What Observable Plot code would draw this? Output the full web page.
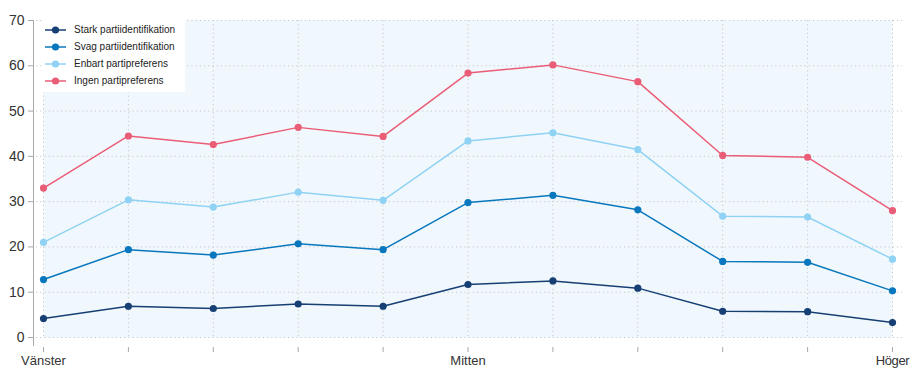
<!DOCTYPE html>
<html><head><meta charset="utf-8">
<script src="https://cdn.jsdelivr.net/npm/d3@7"></script>
<script src="https://cdn.jsdelivr.net/npm/@observablehq/plot@0.6"></script>
<style>
body{margin:0;background:#fff;}
#wrap{position:relative;width:910px;height:369px;}
#legend{position:absolute;left:43px;top:20px;width:142px;height:72px;background:#fff;font-family:"Liberation Sans",Arial,sans-serif;font-size:10px;color:#222;}
.item{position:absolute;left:2px;height:14px;display:flex;align-items:center;}
.item span{margin-left:8px;white-space:nowrap;}
</style></head><body><div id="wrap"><div id="legend"></div></div>
<script>
const positions = ["Vänster","","","","","Mitten","","","","","Höger"];
const seriesNames = ["Stark partiidentifikation","Svag partiidentifikation","Enbart partipreferens","Ingen partipreferens"];
const seriesColors = ["#163f73","#0877bd","#8fd2f3","#ea5d76"];
const stark  = [4.2, 6.9, 6.4, 7.4, 6.9, 11.7, 12.5, 10.9, 5.8, 5.7, 3.3];
const svag   = [12.8, 19.4, 18.2, 20.7, 19.4, 29.8, 31.4, 28.2, 16.8, 16.6, 10.3];
const enbart = [21.0, 30.4, 28.8, 32.1, 30.3, 43.4, 45.2, 41.5, 26.8, 26.6, 17.3];
const ingen  = [33.0, 44.5, 42.6, 46.4, 44.4, 58.4, 60.2, 56.5, 40.2, 39.8, 28.0];
const yTicks = [0,10,20,30,40,50,60,70];

const seriesValues = [stark, svag, enbart, ingen];
const data = [];
seriesValues.forEach((vals, s) => vals.forEach((v, i) => data.push({i, v, s: seriesNames[s]})));
const idx = positions.map((_, i) => i);

const chart = Plot.plot({
  width: 910, height: 369,
  marginLeft: 43, marginRight: 18, marginTop: 20, marginBottom: 32,
  style: {fontFamily: "Liberation Sans, Arial, sans-serif", fontSize: "14px", background: "#fff"},
  x: {domain: [0, idx.length - 1]},
  y: {domain: [0, 70]},
  color: {domain: seriesNames, range: seriesColors},
  marks: [
    Plot.frame({fill: "#f1f8fd", stroke: null}),
    Plot.ruleY(yTicks, {stroke: "#c4c8cc", strokeDasharray: "1.2,3", insetLeft: -7, insetRight: -10}),
    Plot.ruleX(idx, {stroke: "#c4c8cc", strokeDasharray: "1.2,3"}),
    Plot.ruleX([0], {dx: -10, stroke: "#a8a8a8", insetBottom: -9}),
    Plot.axisY({ticks: yTicks, tickSize: 5, tickPadding: 4, dx: -10, stroke: "#a8a8a8", fill: "#333", fontSize: 14, label: null}),
    Plot.axisX({ticks: idx, tickSize: 5, tickPadding: 3, dy: 10, stroke: "#a8a8a8", fill: "#333", fontSize: 13, letterSpacing: -0.3, label: null, tickFormat: i => positions[i]}),
    Plot.line(data, {x: "i", y: "v", z: "s", stroke: "s", strokeWidth: 1.5}),
    Plot.dot(data, {x: "i", y: "v", fill: "s", r: 3.6})
  ]
});
const wrap = document.getElementById("wrap");
wrap.insertBefore(chart, wrap.firstChild);
chart.querySelectorAll("text").forEach(t => { if (t.textContent === "Höger") t.setAttribute("letter-spacing", "-0.4"); });

const legend = document.getElementById("legend");
seriesNames.forEach((name, k) => {
  const d = document.createElement("div");
  d.className = "item";
  d.style.top = (2.5 + k * 17) + "px";
  d.innerHTML = `<svg width="21" height="10"><line x1="0" y1="5" x2="21" y2="5" stroke="${seriesColors[k]}" stroke-width="1.5"/><circle cx="10.5" cy="5" r="3.6" fill="${seriesColors[k]}"/></svg><span>${name}</span>`;
  legend.appendChild(d);
});
</script>
</body></html>
